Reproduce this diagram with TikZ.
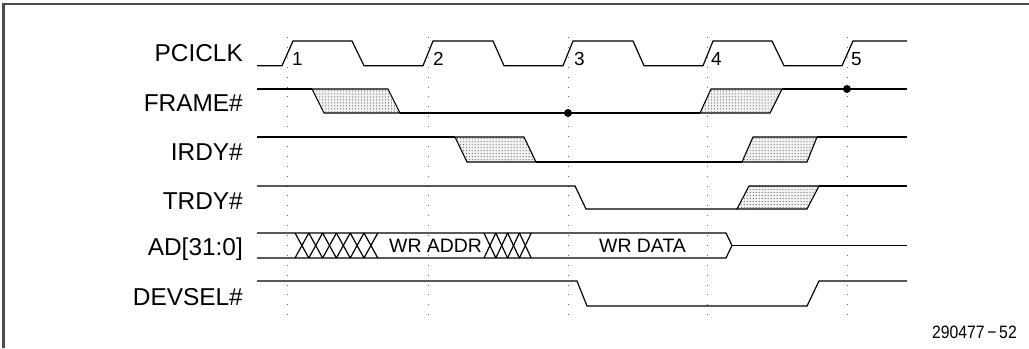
\documentclass[tikz,border=0pt]{standalone}
\usepackage{fontspec}
\usepackage{graphicx}
\setmainfont{Liberation Sans}
\usetikzlibrary{patterns}
\tikzset{
  sig/.style={line width=1.2bp, black},
  shade/.style={line width=1.1bp, black, preaction={fill=black!5}, pattern=dots, pattern color=black!85},
  grid/.style={line width=0.9bp, black!60, dash pattern=on 0.9bp off 9bp},
  lbl/.style={anchor=base east, inner sep=0pt, font=\fontsize{24.5}{26}\selectfont},
  num/.style={anchor=base west, inner sep=0pt, font=\fontsize{19}{21}\selectfont},
  bus/.style={anchor=base west, inner sep=0pt, font=\fontsize{19.5}{21}\selectfont},
  mark dot/.style={circle, fill=black, inner sep=0pt, minimum size=8bp},
}
\begin{document}
\begin{tikzpicture}[x=1bp,y=-1bp]
\useasboundingbox (0,0) rectangle (1029,348);
% frame (left and top edges)
\draw[line width=2.2bp, black!70] (3.5,348) -- (3.5,4) -- (1029,4);

% dotted clock-edge guides
\foreach \e in {287,428,568,707,847}
  \draw[grid] (\e,37) -- (\e,322);

% labels
\node[lbl] (lclk) at (243,61) {PCICLK};
\node[lbl] (lframe) at (243,111.5) {FRAME\#};
\node[lbl] (lirdy) at (243,160) {IRDY\#};
\node[lbl] (ltrdy) at (243,209) {TRDY\#};
\node[lbl] (lad) at (243,255) {AD[31:0]};
\node[lbl] (ldev) at (243,305) {DEVSEL\#};

% PCICLK
\draw[sig] (257,65.7) -- (282,65.7) -- (293,41) -- (352,41) -- (364,65.7)
  -- (423,65.7) -- (433,41) -- (493,41) -- (504,65.7)
  -- (563,65.7) -- (573,41) -- (633,41) -- (644,65.7)
  -- (703,65.7) -- (713,41) -- (772,41) -- (784,65.7)
  -- (842,65.7) -- (853,41) -- (907,41);
\node[num] (n1) at (292,65) {1};
\node[num] (n2) at (433,65) {2};
\node[num] (n3) at (574,65) {3};
\node[num] (n4) at (711,65) {4};
\node[num] (n5) at (851,65) {5};

% FRAME#
\draw[shade] (312,89) -- (388,89) -- (400,113) -- (324,113) -- cycle;
\draw[shade] (700,113) -- (711,89) -- (782,89) -- (770,113) -- cycle;
\draw[sig] (257,89) -- (312,89);
\draw[sig] (400,113) -- (700,113);
\draw[sig] (782,89) -- (907,89);
\node[mark dot] (d1) at (568,113) {};
\node[mark dot] (d2) at (847,89) {};

% IRDY#
\draw[shade] (455,137) -- (524,137) -- (536,162) -- (467,162) -- cycle;
\draw[shade] (742,162) -- (753,137) -- (817,137) -- (807,162) -- cycle;
\draw[sig] (257,137) -- (455,137);
\draw[sig] (536,162) -- (742,162);
\draw[sig] (817,137) -- (907,137);

% TRDY#
\draw[shade] (737,209) -- (749,186) -- (819,186) -- (807,209) -- cycle;
\draw[sig] (257,186) -- (575,186) -- (586,209) -- (737,209);
\draw[sig] (819,186) -- (907,186);

% AD[31:0]
\draw[sig] (257,233) -- (726,233) -- (732,245.5) -- (726,258) -- (257,258);
\draw[sig] (732,245.5) -- (907,245.5);
\foreach \k in {0,...,5} {
  \draw[sig] ({295+\k*13.8},233) -- ({295+(\k+1)*13.8},258);
  \draw[sig] ({295+\k*13.8},258) -- ({295+(\k+1)*13.8},233);
}
\foreach \k in {0,...,3} {
  \draw[sig] ({484+\k*11.8},233) -- ({484+(\k+1)*11.8},258);
  \draw[sig] ({484+\k*11.8},258) -- ({484+(\k+1)*11.8},233);
}
\node[bus] (waddr) at (389,252) {WR ADDR};
\node[bus] (wdata) at (599,252) {WR DATA};

% DEVSEL#
\draw[sig] (257,281) -- (577,281) -- (587,306) -- (807,306) -- (819,281) -- (907,281);

% figure number
\node[anchor=base east, inner sep=0pt, font=\fontsize{18}{20}\selectfont] (fig) at (1017,338) {\scalebox{0.88}[1]{290477\,\textminus\,52}};
\end{tikzpicture}
\end{document}
